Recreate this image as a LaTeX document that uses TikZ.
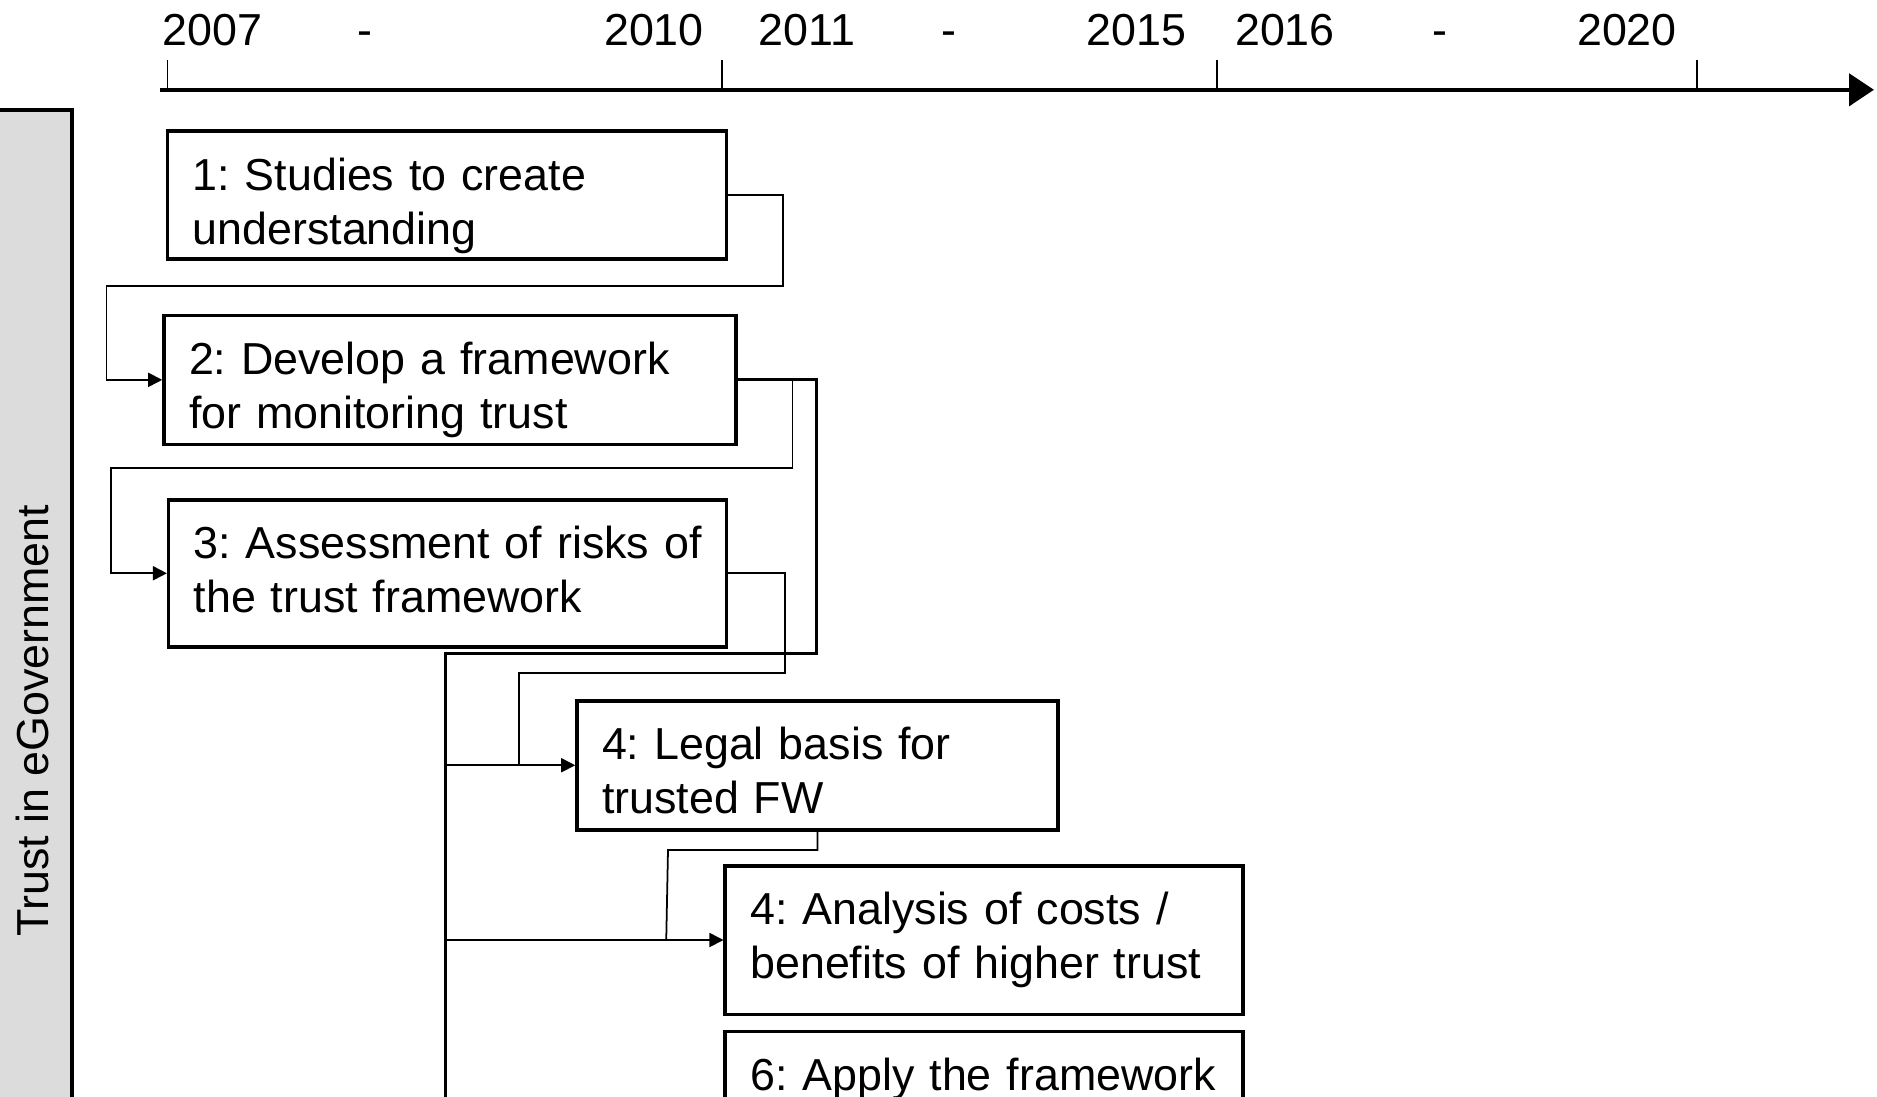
\documentclass[tikz,border=0pt]{standalone}
\usepackage{fontspec}
\setmainfont{Liberation Sans}
\usetikzlibrary{arrows.meta}
\definecolor{barGray}{RGB}{220,220,220}
\newcommand{\boxfont}{\fontsize{25.5pt}{30.8pt}\selectfont\frenchspacing}

\begin{document}
\begin{tikzpicture}[x=2cm,y=-2cm,
    stagebox/.style={draw,line width=2pt,rectangle,align=left,anchor=north,
      inner xsep=0.50cm,inner ysep=0pt,text height=1.18cm,text depth=#1,font=\boxfont},
    link/.style={line width=1pt},
    tip/.style={-{Triangle[length=2.8mm,width=2.8mm]}},
    year/.style={font=\boxfont,inner sep=0,anchor=base}]
    \useasboundingbox (0,0) rectangle (18.77,10.97);

    % time axis
    \draw[line width=2.6pt,-{Triangle[length=5mm,width=6.4mm]}] (1.60,0.898) -- (18.74,0.898);
    \foreach \x in {1.676,7.218,12.173,16.973}
      \draw[line width=1pt] (\x,0.60) -- (\x,0.898);
    \node[year] (y2007) at (2.125,0.455) {2007};
    \node[year] (d1) at (3.65,0.455) {-};
    \node[year] (y2010) at (6.54,0.455) {2010};
    \node[year] (y2011) at (8.07,0.455) {2011};
    \node[year] (d2) at (9.49,0.455) {-};
    \node[year] (y2015) at (11.365,0.455) {2015};
    \node[year] (y2016) at (12.85,0.455) {2016};
    \node[year] (d3) at (14.40,0.455) {-};
    \node[year] (y2020) at (16.27,0.455) {2020};

    % side bar
    \fill[barGray] (0,1.10) rectangle (0.718,11.0);
    \draw[line width=2pt] (0,1.10) -- (0.718,1.10) -- (0.718,11.0);
    \node[rotate=90,font=\boxfont] (topic) at (0.32,7.206) {Trust in eGovernment};

    % stages
    \node[stagebox=1.38cm,text width=10.18cm] (s1) at (4.471,1.293)
      {1: Studies to create\\understanding};
    \node[stagebox=1.40cm,text width=10.44cm] (s2) at (4.50,3.136)
      {2: Develop a framework\\for monitoring trust};
    \node[stagebox=1.76cm,text width=10.16cm] (s3) at (4.477,4.98)
      {\mbox{3: Assessment of risks of}\\the trust framework};
    \node[stagebox=1.40cm,text width=8.62cm] (s4) at (8.175,6.99)
      {4: Legal basis for\\trusted FW};
    \node[stagebox=1.79cm,text width=9.35cm] (s5) at (9.84,8.64)
      {4: Analysis of costs /\\benefits of higher trust};
    \node[stagebox=1.79cm,text width=9.35cm] (s6) at (9.84,10.295)
      {6: Apply the framework};

    % connectors
    \coordinate (trunk) at (4.453,6.536);
    \draw[link,tip] (s1.east) -| (7.83,2.86) -| (1.065,0 |- s2.west) -- (s2.west);
    \draw[link,tip] (s2.east) -| (7.924,4.68) -| (1.113,0 |- s3.west) -- (s3.west);
    \draw[line width=1.6pt] (s2.east) -| (8.164,6.536) -- (trunk) -- (4.453,11.1);
    \draw[link] (s3.east) -| (7.853,6.727) -| ([xshift=-1.126cm]s4.west);
    \draw[link] (s4.south) |- (6.68,8.50) -- ([xshift=-1.145cm]s5.west);
    \foreach \n in {s4,s5,s6}
      \draw[link,tip] (trunk |- \n.west) -- (\n.west);
\end{tikzpicture}
\end{document}
